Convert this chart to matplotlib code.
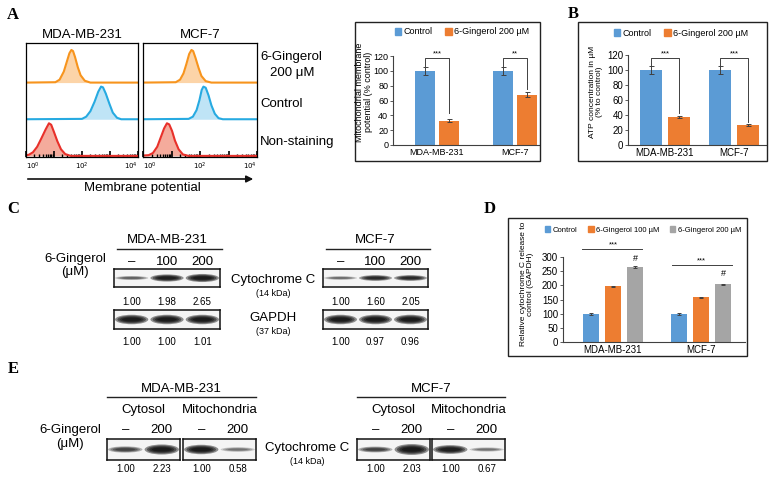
import numpy as np
import matplotlib
matplotlib.use('Agg')
import matplotlib.pyplot as plt
from matplotlib.patches import Rectangle, Ellipse, FancyArrowPatch
from matplotlib.ticker import FixedLocator, FixedFormatter, LogLocator, NullFormatter

plt.rcParams['font.family'] = ['Liberation Sans', 'DejaVu Sans']

# ---- data ----
cells = ['MDA-MB-231', 'MCF-7']

# flow histograms: log10(fluorescence) and height (1 = band height)
mda_orange_x = [0, 1.05, 1.2, 1.35, 1.45, 1.55, 1.62, 1.68, 1.75, 1.85, 1.95, 2.1, 2.3, 4]
mda_orange_h = [0, 0.01, 0.08, 0.3, 0.55, 0.8, 0.89, 0.86, 0.7, 0.42, 0.2, 0.05, 0, 0]
mda_blue_x = [0, 2.0, 2.15, 2.3, 2.45, 2.58, 2.68, 2.75, 2.85, 2.98, 3.1, 3.25, 3.4, 4]
mda_blue_h = [0, 0.01, 0.07, 0.22, 0.48, 0.75, 0.89, 0.87, 0.7, 0.42, 0.18, 0.04, 0, 0]
mda_red_x = [0, 0.1, 0.25, 0.4, 0.55, 0.7, 0.82, 0.9, 1.0, 1.12, 1.25, 1.4, 1.6, 4]
mda_red_h = [0.02, 0.03, 0.1, 0.25, 0.48, 0.72, 0.89, 0.85, 0.65, 0.4, 0.18, 0.05, 0, 0]
mcf_orange_x = [0, 1.15, 1.3, 1.42, 1.52, 1.62, 1.7, 1.76, 1.84, 1.95, 2.05, 2.2, 2.4, 4]
mcf_orange_h = [0, 0.01, 0.08, 0.25, 0.5, 0.78, 0.89, 0.86, 0.68, 0.4, 0.18, 0.04, 0, 0]
mcf_blue_x = [0, 1.6, 1.75, 1.88, 1.98, 2.06, 2.12, 2.2, 2.3, 2.4, 2.52, 2.65, 2.8, 4]
mcf_blue_h = [0, 0.01, 0.07, 0.25, 0.52, 0.8, 0.89, 0.86, 0.65, 0.38, 0.15, 0.03, 0, 0]
mcf_red_x = [0, 0.2, 0.35, 0.5, 0.62, 0.74, 0.84, 0.92, 1.02, 1.12, 1.25, 1.4, 1.6, 4]
mcf_red_h = [0.01, 0.02, 0.08, 0.25, 0.5, 0.75, 0.89, 0.86, 0.68, 0.42, 0.18, 0.04, 0, 0]

# mitochondrial membrane potential (% control)
mmp_ctrl = [100, 100]
mmp_ctrl_err = [5, 5]
mmp_ging = [33, 68]
mmp_ging_err = [1.5, 3]

# ATP (% to control)
atp_ctrl = [100, 100]
atp_ctrl_err = [5, 5]
atp_ging = [37, 27]
atp_ging_err = [1.5, 1.2]

# cytochrome C release (% control)
cytc_ctrl = [100, 100]
cytc_ctrl_err = [3, 3]
cytc_100 = [197, 158]
cytc_100_err = [2, 2]
cytc_200 = [265, 204]
cytc_200_err = [5, 2]

# western blot quantification
c_doses = ['–', '100', '200']
c_mda_cytc = ['1.00', '1.98', '2.65']
c_mda_gapdh = ['1.00', '1.00', '1.01']
c_mcf_cytc = ['1.00', '1.60', '2.05']
c_mcf_gapdh = ['1.00', '0.97', '0.96']
e_doses = ['–', '200']
e_mda_cyto = ['1.00', '2.23']
e_mda_mito = ['1.00', '0.58']
e_mcf_cyto = ['1.00', '2.03']
e_mcf_mito = ['1.00', '0.67']

# band darkness / thickness
c_mda_cytc_dark = [0.5, 0.95, 1.0]
c_mda_cytc_th = [0.22, 0.4, 0.45]
c_mcf_cytc_dark = [0.45, 0.85, 0.85]
c_mcf_cytc_th = [0.2, 0.32, 0.32]
gapdh_dark = [1, 1, 1]
gapdh_th = [0.5, 0.5, 0.5]
e_mda_cyto_dark = [0.65, 1.0]
e_mda_cyto_th = [0.3, 0.48]
e_mda_mito_dark = [1.0, 0.4]
e_mda_mito_th = [0.45, 0.22]
e_mcf_cyto_dark = [0.65, 1.0]
e_mcf_cyto_th = [0.28, 0.52]
e_mcf_mito_dark = [0.95, 0.4]
e_mcf_mito_th = [0.42, 0.2]

BLUE = '#5b9bd5'
ORANGE = '#ed7d31'
GRAY = '#a5a5a5'

W, H = 774, 479
fig = plt.figure(figsize=(W / 100, H / 100), dpi=100)


def rect(x0, y0, x1, y1):
    return [x0 / W, 1 - y1 / H, (x1 - x0) / W, (y1 - y0) / H]


def tx(x, y, s, size=9.5, ha='center', va='center', **kw):
    fig.text(x / W, 1 - y / H, s, fontsize=size, ha=ha, va=va, **kw)


def frame(x0, y0, x1, y1, lw=1.0):
    fig.add_artist(Rectangle((x0 / W, 1 - y1 / H), (x1 - x0) / W, (y1 - y0) / H,
                             transform=fig.transFigure, fill=False, lw=lw, ec='#222'))


def hline(x0, x1, y, lw=1.0):
    fig.add_artist(plt.Line2D([x0 / W, x1 / W], [1 - y / H, 1 - y / H],
                              transform=fig.transFigure, color='#222', lw=lw))


def letter(x, y, s):
    tx(x, y, s, size=12, family='Liberation Serif', weight='bold')


# ---- panel A: histograms ----
letter(13, 15, 'A')
hist_sets = [
    (26, 138, [(mda_red_x, mda_red_h), (mda_blue_x, mda_blue_h), (mda_orange_x, mda_orange_h)]),
    (143, 257, [(mcf_red_x, mcf_red_h), (mcf_blue_x, mcf_blue_h), (mcf_orange_x, mcf_orange_h)]),
]
line_cols = ['#e8302a', '#27aae1', '#f7941d']
fill_cols = ['#f4ab9c', '#bfe4f6', '#fcd4a8']
for (x0, x1, curves), title in zip(hist_sets, cells):
    ax = fig.add_axes(rect(x0, 43, x1, 157))
    ax.set_xscale('log')
    for base, (lx, h), lc, fc in zip([0, 1, 2], curves, line_cols, fill_cols):
        xs = 10 ** np.array(lx, dtype=float)
        ys = base + np.array(h)
        ax.fill_between(xs, base, ys, color=fc, lw=0)
        ax.plot(xs, ys, color=lc, lw=1.5)
    ax.set_xlim(1, 1e4)
    ax.set_ylim(-0.03, 3.08)
    ax.set_yticks([])
    ax.xaxis.set_major_locator(FixedLocator([1, 10, 100, 1000, 10000]))
    ax.xaxis.set_major_formatter(FixedFormatter(['$10^0$', '', '$10^2$', '', '$10^4$']))
    ax.xaxis.set_minor_locator(LogLocator(base=10, subs=np.arange(2, 10), numticks=20))
    ax.xaxis.set_minor_formatter(NullFormatter())
    ax.tick_params(axis='x', which='major', direction='in', length=4, width=1.2, labelsize=5, pad=3)
    ax.tick_params(axis='x', which='minor', direction='in', length=2.5, width=1.0)
    labs = ax.get_xticklabels()
    labs[0].set_ha('left')
    labs[-1].set_ha('right')
    for sp in ax.spines.values():
        sp.set_lw(0.9)
    tx((x0 + x1) / 2, 35, title)

tx(260, 57, '6-Gingerol', ha='left')
tx(270, 73, '200 μM', ha='left')
tx(260, 104, 'Control', ha='left')
tx(260, 142, 'Non-staining', ha='left')
fig.add_artist(FancyArrowPatch((25 / W, 1 - 179 / H), (256 / W, 1 - 179 / H),
                               transform=fig.transFigure, arrowstyle='-|>',
                               mutation_scale=10, lw=1.2, color='#111'))
tx(142, 188, 'Membrane potential')


def style_bar_ax(ax, yticks, size=7):
    for s in ['top', 'right']:
        ax.spines[s].set_visible(False)
    for s in ['left', 'bottom']:
        ax.spines[s].set_color('#404040')
        ax.spines[s].set_lw(0.8)
    ax.set_yticks(yticks)
    ax.tick_params(axis='y', length=2, width=0.6, labelsize=size, pad=1.5, color='#404040')
    ax.tick_params(axis='x', length=0, labelsize=size, pad=2)


def bracket(ax, xl, xr, ytop, yl, yr, star):
    ax.plot([xl, xl, xr, xr], [yl, ytop, ytop, yr], color='#404040', lw=0.7, clip_on=False)
    ax.text((xl + xr) / 2, ytop + 1, star, ha='center', va='bottom', fontsize=5.5)


def bar_legend(ax, cx, cy, labels, colors, size):
    handles = [Rectangle((0, 0), 1, 1, color=c) for c in colors]
    ax.legend(handles, labels, ncol=len(labels), loc='center',
              bbox_to_anchor=(cx / W, 1 - cy / H), bbox_transform=fig.transFigure,
              frameon=False, fontsize=size, handlelength=0.7, handleheight=0.7,
              handletextpad=0.3, columnspacing=1.4, borderaxespad=0)


# ---- panel A: membrane potential bars ----
frame(355, 22, 540, 161)
ax = fig.add_axes(rect(393, 56, 539, 145))
pos = np.arange(len(cells))
off, wd = 0.15, 0.256
ax.bar(pos - off, mmp_ctrl, wd, color=BLUE, yerr=mmp_ctrl_err, capsize=1.8,
       error_kw=dict(lw=0.7, capthick=0.7, ecolor='#404040'))
ax.bar(pos + off, mmp_ging, wd, color=ORANGE, yerr=mmp_ging_err, capsize=1.8,
       error_kw=dict(lw=0.7, capthick=0.7, ecolor='#404040'))
ax.set_xlim(-0.564, 1.308)
ax.set_ylim(0, 120)
ax.set_xticks(pos)
ax.set_xticklabels(cells)
style_bar_ax(ax, range(0, 121, 20), size=6.5)
bracket(ax, 0 - off, 0 + off, 117, 106, 43, '***')
bracket(ax, 1 - off, 1 + off, 117, 106, 76, '**')
bar_legend(ax, 462, 32, ['Control', '6-Gingerol 200 µM'], [BLUE, ORANGE], 6.5)
tx(364, 92, 'Mitochondrial membrane\npotential (% control)', size=6.5, rotation=90, linespacing=1.0)

# ---- panel B: ATP ----
letter(573, 14, 'B')
frame(578, 22, 767, 161)
ax = fig.add_axes(rect(628, 55, 766, 145))
off, wd = 0.2, 0.32
ax.bar(pos - off, atp_ctrl, wd, color=BLUE, yerr=atp_ctrl_err, capsize=1.8,
       error_kw=dict(lw=0.7, capthick=0.7, ecolor='#404040'))
ax.bar(pos + off, atp_ging, wd, color=ORANGE, yerr=atp_ging_err, capsize=1.8,
       error_kw=dict(lw=0.7, capthick=0.7, ecolor='#404040'))
ax.set_xlim(-0.536, 1.464)
ax.set_ylim(0, 120)
ax.set_xticks(pos)
ax.set_xticklabels(cells)
style_bar_ax(ax, range(0, 121, 20))
bracket(ax, 0 - off, 0 + off, 116, 106, 43, '***')
bracket(ax, 1 - off, 1 + off, 116, 106, 31, '***')
bar_legend(ax, 681, 33, ['Control', '6-Gingerol 200 µM'], [BLUE, ORANGE], 6.5)
tx(596, 92, 'ATP concentration in µM\n(% to control)', size=6, rotation=90, linespacing=1.1)


# ---- western blots ----
def blot(x0, y0, x1, y1, dark, thick):
    ax = fig.add_axes(rect(x0, y0, x1, y1))
    n = len(dark)
    ax.set_xlim(0, n)
    ax.set_ylim(0, 1)
    ax.set_xticks([])
    ax.set_yticks([])
    ax.set_facecolor('#f4f4f4')
    for sp in ax.spines.values():
        sp.set_lw(1.1)
        sp.set_color('#111')
    for i, (d, t) in enumerate(zip(dark, thick)):
        for k in range(4):
            ax.add_patch(Ellipse((i + 0.5, 0.5), 0.94 * (1 - 0.14 * k), t * (1 - 0.2 * k),
                                 color='black', alpha=d * 0.42, lw=0))


def lane_labels(x0, x1, y, labels, size):
    n = len(labels)
    step = (x1 - x0) / n
    for i, s in enumerate(labels):
        tx(x0 + step * (i + 0.5), y, s, size=size)


letter(13, 209, 'C')
tx(75, 259, '6-Gingerol')
tx(75, 272, '(μM)')
for (bx0, bx1), title, cyt_lab, gap_lab, cyt_d, cyt_t in [
        ((114, 220), cells[0], c_mda_cytc, c_mda_gapdh, c_mda_cytc_dark, c_mda_cytc_th),
        ((323, 428), cells[1], c_mcf_cytc, c_mcf_gapdh, c_mcf_cytc_dark, c_mcf_cytc_th)]:
    tx((bx0 + bx1) / 2, 240, title)
    hline(bx0 + 3, bx1 + 2, 249)
    lane_labels(bx0, bx1, 262, c_doses, 9.5)
    blot(bx0, 269, bx1, 287, cyt_d, cyt_t)
    lane_labels(bx0, bx1, 302, cyt_lab, 7)
    blot(bx0, 310, bx1, 329, gapdh_dark, gapdh_th)
    lane_labels(bx0, bx1, 342, gap_lab, 7)
tx(273, 280, 'Cytochrome C')
tx(273, 294, '(14 kDa)', size=6.5)
tx(273, 318, 'GAPDH')
tx(273, 332, '(37 kDa)', size=6.5)

# ---- panel D: cytochrome C release ----
letter(490, 209, 'D')
frame(508, 218, 747, 356)
ax = fig.add_axes(rect(563, 257, 745, 342))
off, wd = 0.25, 0.19
ek = dict(lw=0.7, capthick=0.7, ecolor='#404040')
ax.bar(pos - off, cytc_ctrl, wd, color=BLUE, yerr=cytc_ctrl_err, capsize=1.5, error_kw=ek)
ax.bar(pos, cytc_100, wd, color=ORANGE, yerr=cytc_100_err, capsize=1.5, error_kw=ek)
ax.bar(pos + off, cytc_200, wd, color=GRAY, yerr=cytc_200_err, capsize=1.5, error_kw=ek)
ax.set_xlim(-0.568, 1.5)
ax.set_ylim(0, 300)
ax.set_xticks(pos)
ax.set_xticklabels(cells)
style_bar_ax(ax, range(0, 301, 50))
ax.plot([-0.35, 0.33], [328, 328], color='#404040', lw=0.7, clip_on=False)
ax.text(0, 331, '***', ha='center', va='bottom', fontsize=5.5)
ax.plot([0.67, 1.35], [272, 272], color='#404040', lw=0.7, clip_on=False)
ax.text(1.0, 275, '***', ha='center', va='bottom', fontsize=5.5)
ax.text(0 + off, 296, '#', ha='center', va='center', fontsize=6.5)
ax.text(1 + off, 240, '#', ha='center', va='center', fontsize=6.5)
bar_legend(ax, 643, 230, ['Control', '6-Gingerol 100 µM', '6-Gingerol 200 µM'],
           [BLUE, ORANGE, GRAY], 5.5)
tx(527, 284, 'Relative cytochrome C release to\ncontrol (GAPDH)', size=6, rotation=90, linespacing=1.1)

# ---- panel E: fractions ----
letter(13, 369, 'E')
tx(70, 430, '6-Gingerol')
tx(70, 444, '(μM)')
for (c0, c1), (m0, m1), title, cyto_lab, mito_lab, cd, ct, md, mt in [
        ((107, 180), (183, 256), cells[0], e_mda_cyto, e_mda_mito,
         e_mda_cyto_dark, e_mda_cyto_th, e_mda_mito_dark, e_mda_mito_th),
        ((357, 430), (432, 505), cells[1], e_mcf_cyto, e_mcf_mito,
         e_mcf_cyto_dark, e_mcf_cyto_th, e_mcf_mito_dark, e_mcf_mito_th)]:
    tx((c0 + m1) / 2, 389, title)
    hline(c0, m1, 397)
    tx((c0 + c1) / 2, 410, 'Cytosol')
    tx((m0 + m1) / 2, 410, 'Mitochondria')
    lane_labels(c0, c1, 430, e_doses, 9.5)
    lane_labels(m0, m1, 430, e_doses, 9.5)
    blot(c0, 439, c1, 460, cd, ct)
    blot(m0, 439, m1, 460, md, mt)
    lane_labels(c0, c1, 469, cyto_lab, 7)
    lane_labels(m0, m1, 469, mito_lab, 7)
tx(307, 448, 'Cytochrome C')
tx(307, 462, '(14 kDa)', size=6.5)

fig.savefig('out.png', dpi=100)
